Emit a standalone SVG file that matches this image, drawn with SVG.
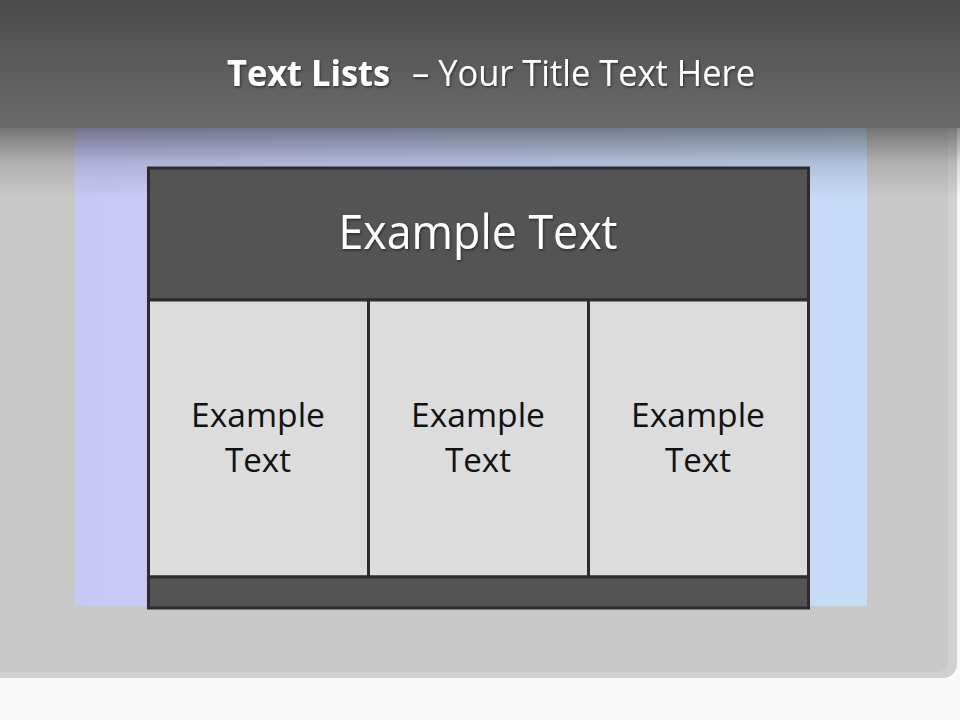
<svg xmlns="http://www.w3.org/2000/svg" width="960" height="720" viewBox="0 0 960 720">
  <style>
    .title { font-family: "Open Sans", "Liberation Sans", sans-serif; fill: #ffffff; }
    .cellBox { fill: #dcdcdc; stroke: #2b2b30; stroke-width: 3; }
    .darkBox { fill: #545454; stroke: #2b2b30; stroke-width: 3; }
    .cellText { font-family: "Open Sans", "Liberation Sans", sans-serif; font-size: 33px; fill: #111111; text-anchor: middle; }
    .headText { font-family: "Open Sans", "Liberation Sans", sans-serif; font-size: 47px; fill: #ffffff; text-anchor: middle; }
  </style>
  <defs>
    <linearGradient id="hdr" x1="0" y1="0" x2="0" y2="1">
      <stop offset="0" stop-color="#4b4b4b"/>
      <stop offset="1" stop-color="#6b6b6b"/>
    </linearGradient>
    <linearGradient id="shadow" x1="0" y1="0" x2="0" y2="1">
      <stop offset="0" stop-color="#000000" stop-opacity="0.42"/>
      <stop offset="0.5" stop-color="#000000" stop-opacity="0.12"/>
      <stop offset="1" stop-color="#000000" stop-opacity="0"/>
    </linearGradient>
    <linearGradient id="blue" x1="0" y1="0" x2="1" y2="0">
      <stop offset="0" stop-color="#c8c8f4"/>
      <stop offset="1" stop-color="#c6dcf6"/>
    </linearGradient>
    <filter id="ts" x="-5%" y="-20%" width="110%" height="140%">
      <feDropShadow dx="1" dy="1.5" stdDeviation="1" flood-color="#000000" flood-opacity="0.5"/>
    </filter>
  </defs>

  <!-- page background -->
  <rect x="0" y="0" width="960" height="720" fill="#f8f8f8"/>
  <!-- gray panel -->
  <rect x="-20" y="-20" width="977" height="698" rx="14" fill="#d0d0d0"/>
  <rect x="-20" y="-20" width="968" height="692" rx="10" fill="#c8c8c8"/>

  <!-- blue panel -->
  <rect x="75" y="128" width="792" height="478" fill="url(#blue)"/>

  <!-- header band and shadow -->
  <rect x="0" y="128" width="960" height="70" fill="url(#shadow)"/>
  <rect x="0" y="0" width="960" height="128" fill="url(#hdr)"/>

  <g id="title" filter="url(#ts)">
    <text class="title" x="227" y="86" font-size="36" font-weight="bold" textLength="163" lengthAdjust="spacingAndGlyphs">Text Lists</text>
    <text class="title" x="412" y="86" font-size="36" textLength="343" lengthAdjust="spacingAndGlyphs">– Your Title Text Here</text>
  </g>

  <g id="header">
    <rect class="darkBox" x="148.5" y="168" width="660" height="132"/>
    <text class="headText" x="478" y="249" textLength="279" lengthAdjust="spacingAndGlyphs" filter="url(#ts)">Example Text</text>
  </g>

  <g id="cell1">
    <rect class="cellBox" x="148.5" y="300" width="220" height="277"/>
    <text class="cellText" x="258" y="427" textLength="134" lengthAdjust="spacingAndGlyphs">Example</text>
    <text class="cellText" x="258" y="472" textLength="66" lengthAdjust="spacingAndGlyphs">Text</text>
  </g>
  <g id="cell2">
    <rect class="cellBox" x="368.5" y="300" width="220" height="277"/>
    <text class="cellText" x="478" y="427" textLength="134" lengthAdjust="spacingAndGlyphs">Example</text>
    <text class="cellText" x="478" y="472" textLength="66" lengthAdjust="spacingAndGlyphs">Text</text>
  </g>
  <g id="cell3">
    <rect class="cellBox" x="588.5" y="300" width="220" height="277"/>
    <text class="cellText" x="698" y="427" textLength="134" lengthAdjust="spacingAndGlyphs">Example</text>
    <text class="cellText" x="698" y="472" textLength="66" lengthAdjust="spacingAndGlyphs">Text</text>
  </g>

  <g id="footer">
    <rect class="darkBox" x="148.5" y="577" width="660" height="31"/>
  </g>

  <g id="connectors"></g>
</svg>
